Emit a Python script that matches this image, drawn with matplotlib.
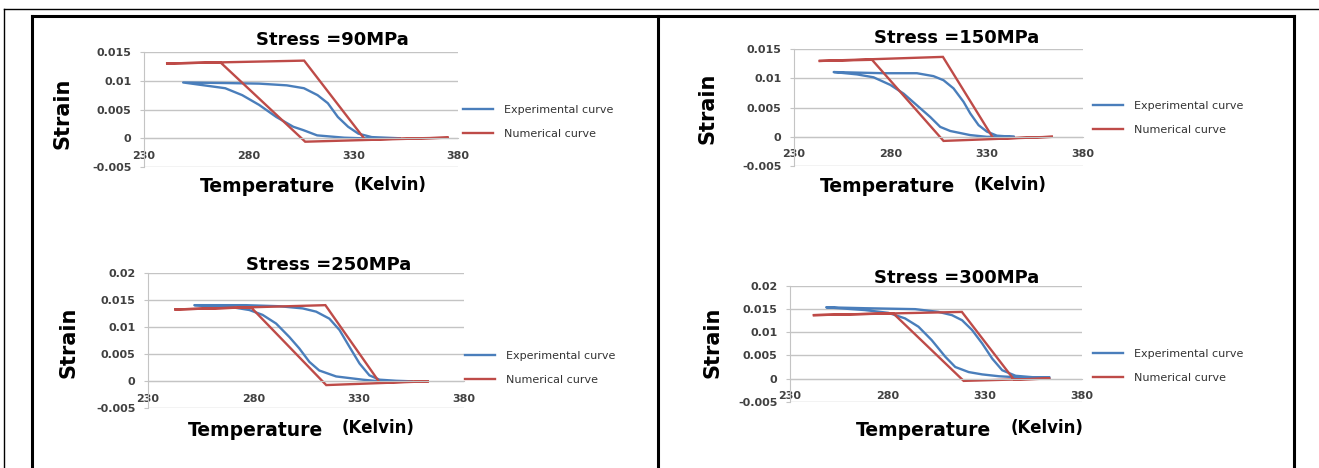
import matplotlib
matplotlib.use("Agg")
import matplotlib.pyplot as plt
from matplotlib.lines import Line2D

W, H = 1319, 468

titles = ["Stress =90MPa", "Stress =150MPa", "Stress =250MPa", "Stress =300MPa"]
x_ticks = [230, 280, 330, 380]
y_ticks_small = [-0.005, 0, 0.005, 0.01, 0.015]
y_labels_small = ["-0.005", "0", "0.005", "0.01", "0.015"]
y_ticks_big = [-0.005, 0, 0.005, 0.01, 0.015, 0.02]
y_labels_big = ["-0.005", "0", "0.005", "0.01", "0.015", "0.02"]

# experimental curves: temperature (K) and strain, cooling branch then heating branch
exp_T_90 = [352, 333.7, 325.6, 312.7, 306.2, 301.3, 293.2, 285, 276.9, 268.8, 248.7,
            268.8, 285, 298.2, 306.4, 312.9, 317.8, 322.6, 327.5, 332.4, 338.8, 352]
exp_e_90 = [0.0, 0.0, 0.0001, 0.0005, 0.0014, 0.0020, 0.0037, 0.0058, 0.0075, 0.0087, 0.0097,
            0.0096, 0.0095, 0.0092, 0.0087, 0.0075, 0.0061, 0.0037, 0.0020, 0.0008, 0.0002, 0.0]

exp_T_150 = [343.9, 330.1, 321.4, 311.1, 305.9, 300.7, 293.8, 286.9, 280, 271.3, 262.7, 250.6,
             276.5, 293.8, 302.4, 307.6, 312.8, 318, 321.5, 325.8, 330.1, 335.3, 343.9]
exp_e_150 = [0.0, 0.0, 0.0003, 0.0010, 0.0017, 0.0034, 0.0054, 0.0074, 0.0089, 0.0102, 0.0107, 0.0111,
             0.0109, 0.0109, 0.0104, 0.0097, 0.0083, 0.0060, 0.0040, 0.0020, 0.0009, 0.0002, 0.0]

exp_T_250 = [355, 339.9, 331.9, 319.3, 311.3, 306.6, 301.8, 297.1, 290.8, 284.4, 278.1, 268.6, 252,
             276.5, 292.4, 303.4, 309.8, 316.1, 320.9, 325.6, 330.4, 335.1, 339.9, 347.8, 355]
exp_e_250 = [0.0, 0.0, 0.0003, 0.0009, 0.0020, 0.0036, 0.0061, 0.0082, 0.0107, 0.0123, 0.0132, 0.0138, 0.0141,
             0.0141, 0.0139, 0.0135, 0.0129, 0.0116, 0.0095, 0.0064, 0.0033, 0.0011, 0.0003, 0.0001, 0.0]

exp_T_300 = [363.1, 345.9, 337.3, 328.7, 321.8, 314.9, 309.8, 302.8, 296, 289.1, 280.5, 268.4, 248.6,
             268.4, 294.3, 306.3, 313.2, 318.4, 323.5, 328.7, 333.9, 339, 345.9, 354.5, 363.1]
exp_e_300 = [0.0002, 0.0003, 0.0005, 0.0009, 0.0014, 0.0025, 0.0047, 0.0083, 0.0112, 0.0130, 0.0142, 0.0148, 0.0154,
             0.0152, 0.0150, 0.0144, 0.0137, 0.0126, 0.0105, 0.0076, 0.0043, 0.0018, 0.0006, 0.0003, 0.0002]

# numerical curves (parallelogram loops)
num_T_90 = [375, 307, 266.5, 240.5, 306.5, 335.5, 375]
num_e_90 = [0.0001, -0.0006, 0.0132, 0.0130, 0.0135, -0.0002, 0.0001]
num_T_150 = [363.8, 307.6, 270.5, 242.8, 307.3, 333.5, 363.8]
num_e_150 = [0.0, -0.0007, 0.0132, 0.0130, 0.0137, -0.0003, 0.0]
num_T_250 = [362.8, 314.6, 278.9, 242.5, 314.2, 339.9, 362.8]
num_e_250 = [0.0, -0.0007, 0.0137, 0.0133, 0.0141, -0.0002, 0.0]
num_T_300 = [363.1, 319.2, 283, 241.7, 318.3, 345, 363.1]
num_e_300 = [0.0, -0.0005, 0.0141, 0.0137, 0.0144, -0.0002, 0.0]

BLUE = "#4a7ebb"
RED = "#be4b48"
GRID = "#c4c4c4"


def fx(px):
    return px / W


def fy(py):
    return 1 - py / H


# layout in pixels: plot box (left, right, top, bottom), title, strain label,
# temperature label, kelvin label, legend anchor
layout = [
    dict(box=(144, 458, 52, 167), title=(332, 40), strain=(62, 113), temp=(267, 187), kelvin=(390, 185), leg=(463, 122)),
    dict(box=(794, 1083, 49.3, 166), title=(957, 38), strain=(707, 108), temp=(887, 187), kelvin=(1010, 185), leg=(1093, 118)),
    dict(box=(148, 464, 273.3, 408.3), title=(329, 265), strain=(68, 342), temp=(256, 430), kelvin=(378, 428), leg=(465, 368)),
    dict(box=(790, 1082, 286, 401.7), title=(957, 278), strain=(713, 342), temp=(924, 430), kelvin=(1047, 428), leg=(1093, 366)),
]

series = [
    (exp_T_90, exp_e_90, num_T_90, num_e_90, y_ticks_small, y_labels_small),
    (exp_T_150, exp_e_150, num_T_150, num_e_150, y_ticks_small, y_labels_small),
    (exp_T_250, exp_e_250, num_T_250, num_e_250, y_ticks_big, y_labels_big),
    (exp_T_300, exp_e_300, num_T_300, num_e_300, y_ticks_big, y_labels_big),
]

fig = plt.figure(figsize=(W / 100, H / 100), dpi=100)

for i in range(4):
    lay = layout[i]
    eT, ee, nT, ne, yt, yl = series[i]
    l, r, t, b = lay["box"]
    ax = fig.add_axes([fx(l), fy(b), (r - l) / W, (b - t) / H])

    exp_line, = ax.plot(eT, ee, color=BLUE, lw=1.7, solid_joinstyle="round")
    num_line, = ax.plot(nT, ne, color=RED, lw=1.7, solid_joinstyle="miter")

    ax.set_xlim(230, 380)
    ax.set_ylim(yt[0], yt[-1])
    ax.set_xticks(x_ticks)
    ax.set_xticklabels([str(v) for v in x_ticks])
    ax.set_yticks(yt)
    ax.set_yticklabels(yl)

    ax.spines["top"].set_visible(False)
    ax.spines["right"].set_visible(False)
    ax.spines["left"].set_color(GRID)
    ax.spines["bottom"].set_position(("data", 0))
    ax.spines["bottom"].set_color(GRID)
    ax.yaxis.grid(True, color=GRID, lw=1)
    ax.set_axisbelow(True)
    ax.tick_params(axis="x", length=0, pad=9, labelsize=8, labelcolor="#404040")
    ax.tick_params(axis="y", length=3, color=GRID, pad=6, labelsize=8, labelcolor="#404040")
    for lab in ax.get_xticklabels() + ax.get_yticklabels():
        lab.set_fontweight("bold")

    ax.legend([exp_line, num_line], ["Experimental curve", "Numerical curve"],
              loc="center left", bbox_to_anchor=(fx(lay["leg"][0]), fy(lay["leg"][1])),
              bbox_transform=fig.transFigure, frameon=False, fontsize=8,
              handlelength=2.7, handletextpad=1.0, labelspacing=1.3,
              borderpad=0, borderaxespad=0, labelcolor="#333333")

    fig.text(fx(lay["title"][0]), fy(lay["title"][1]), titles[i], ha="center", va="center",
             fontsize=13, fontweight="bold")
    fig.text(fx(lay["strain"][0]), fy(lay["strain"][1]), "Strain", ha="center", va="center",
             rotation=90, fontsize=15, fontweight="bold")
    fig.text(fx(lay["temp"][0]), fy(lay["temp"][1]), "Temperature", ha="center", va="center",
             fontsize=13.5, fontweight="bold")
    fig.text(fx(lay["kelvin"][0]), fy(lay["kelvin"][1]), "(Kelvin)", ha="center", va="center",
             fontsize=12, fontweight="bold")

# page frame: thin outer line and thick table borders
fig.add_artist(Line2D([fx(4), fx(W)], [fy(9), fy(9)], color="black", lw=1))
fig.add_artist(Line2D([fx(4), fx(4)], [fy(9), fy(H)], color="black", lw=1))
fig.add_artist(Line2D([fx(32), fx(1294)], [fy(16), fy(16)], color="black", lw=2.2))
for xv in [32, 658, 1294]:
    fig.add_artist(Line2D([fx(xv), fx(xv)], [fy(16), fy(H)], color="black", lw=2.2))

fig.savefig("out.png", dpi=100)
